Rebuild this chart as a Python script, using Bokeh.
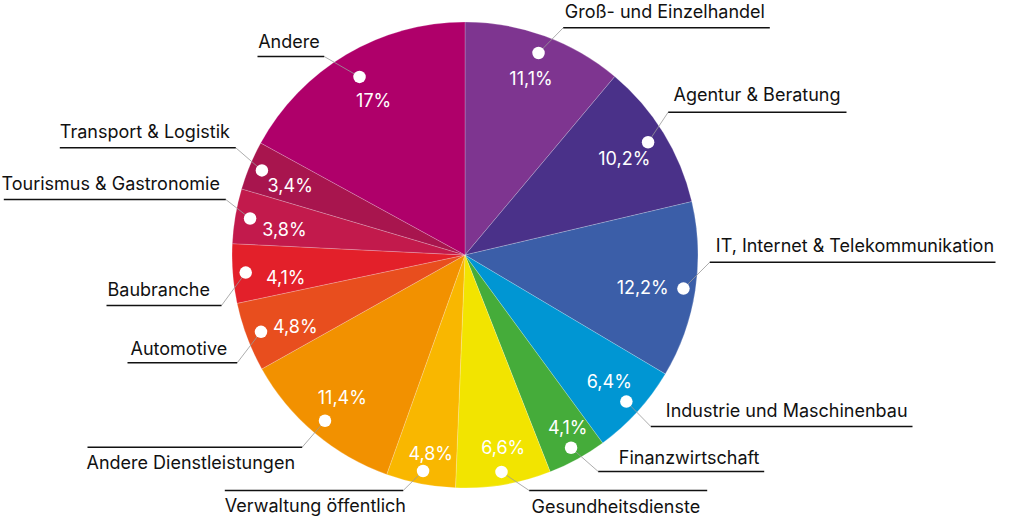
import math
from bokeh.plotting import figure
from bokeh.models import Range1d, ColumnDataSource
from bokeh.core.properties import value
from bokeh.embed import file_html
from bokeh.resources import INLINE

# ---- data ----
categories = ["Groß- und Einzelhandel", "Agentur & Beratung", "IT, Internet & Telekommunikation",
              "Industrie und Maschinenbau", "Finanzwirtschaft", "Gesundheitsdienste",
              "Verwaltung öffentlich", "Andere Dienstleistungen", "Automotive", "Baubranche",
              "Tourismus & Gastronomie", "Transport & Logistik", "Andere"]
shares = [11.1, 10.2, 12.2, 6.4, 4.1, 6.6, 4.8, 11.4, 4.8, 4.1, 3.8, 3.4, 17.0]
pct_labels = ["11,1%", "10,2%", "12,2%", "6,4%", "4,1%", "6,6%", "4,8%", "11,4%", "4,8%",
              "4,1%", "3,8%", "3,4%", "17%"]
colors = ["#7E3590", "#4A3189", "#3B5EA8", "#0096D3", "#45AC3A", "#F2E400", "#F9B700",
          "#F29100", "#E84E1E", "#E3202A", "#C21A4C", "#A8154E", "#AF006A"]

# ---- layout (reference pixel coordinates, y downward) ----
H = 532
X0, Y0 = 4, 5          # reference pixel shown at the figure's top-left corner
CX, CY, R = 468.5, 259.5, 233
dot_r = [215, 215, 221, 218, 220, 220, 220, 217, 218, 220, 218, 220, 207]
pct_pos = [(534.5, 89), (627.8, 169), (646.2, 298), (612.8, 392.3), (571.2, 438.3),
           (506.7, 458.3), (434.2, 464.3), (345.8, 408.3), (298.8, 337.3), (289.2, 288.3),
           (288.0, 240.7), (293.7, 196), (377.2, 111)]
# text left x, text baseline y, underline y, underline x0, x1, leader end side
lab_pos = [(568.3, 22.7, 32.3, 566.7, 773.3, "L"),
           (677.0, 105.7, 116.7, 671.7, 850.0, "L"),
           (719.3, 256.0, 266.7, 713.3, 999.0, "L"),
           (669.3, 421.7, 431.0, 654.3, 916.0, "L"),
           (622.3, 468.3, 476.0, 601.7, 767.7, "L"),
           (535.0, 517.0, 495.0, 532.7, 710.7, "L"),
           (228.3, 516.0, 495.0, 228.3, 406.7, "R"),
           (90.0, 473.3, 451.7, 91.0, 305.7, "R"),
           (134.0, 359.0, 367.3, 131.0, 240.7, "R"),
           (111.0, 300.7, 310.0, 110.0, 225.0, "R"),
           (5.0, 194.0, 204.0, 7.3, 229.3, "R"),
           (63.3, 142.7, 152.3, 63.3, 239.3, "R"),
           (261.7, 52.7, 61.0, 261.0, 327.7, "R")]

def fy(y):
    return H - y

p = figure(width=996, height=516, x_range=Range1d(X0, X0 + 996),
           y_range=Range1d(H - (Y0 + 516), H - Y0),
           output_backend="svg", toolbar_location=None, x_axis_location=None,
           y_axis_location=None, min_border=0)
p.grid.visible = False
p.outline_line_color = None
p.background_fill_color = "white"

total = sum(shares)
starts, ends, mids = [], [], []
cum = 0.0
for s in shares:
    a0 = math.pi / 2 - 2 * math.pi * (cum + s) / total
    a1 = math.pi / 2 - 2 * math.pi * cum / total
    starts.append(a0)
    ends.append(a1)
    mids.append((a0 + a1) / 2)
    cum += s

src = ColumnDataSource(dict(start=starts, end=ends, color=colors))
p.wedge(x=CX, y=fy(CY), radius=R, start_angle="start", end_angle="end",
        fill_color="color", line_color="white", line_alpha=0.35, line_width=0.6, source=src)

dx = [CX + dot_r[i] * math.cos(mids[i]) for i in range(len(shares))]
dy = [fy(CY) + dot_r[i] * math.sin(mids[i]) for i in range(len(shares))]

# leaders and underlines
lx, ly, ux, uy = [], [], [], []
for i, (tx, tb, uyy, x0, x1, side) in enumerate(lab_pos):
    ex = x0 if side == "L" else x1
    lx.append([dx[i], ex])
    ly.append([dy[i], fy(uyy)])
    ux.append([x0, x1])
    uy.append([fy(uyy), fy(uyy)])
p.multi_line(xs=lx, ys=ly, line_color="#9a9a9a", line_width=0.9, line_alpha=0.9)
p.multi_line(xs=ux, ys=uy, line_color="#111111", line_width=1.5)

p.scatter(x=dx, y=dy, size=12.5, marker="circle", fill_color="white", line_color=None)

p.text(x=[q[0] for q in pct_pos], y=[fy(q[1] - 6.5) for q in pct_pos], text=pct_labels,
       text_color="white", text_font=value("Inter"), text_font_size="18px",
       text_align="center", text_baseline="middle")

p.text(x=[q[0] for q in lab_pos], y=[fy(q[1] - 6.5) for q in lab_pos], text=categories,
       text_color="#111111", text_font=value("Inter"), text_font_size="18px",
       text_align="left", text_baseline="middle")

open("out.html", "w").write(file_html(p, INLINE))
